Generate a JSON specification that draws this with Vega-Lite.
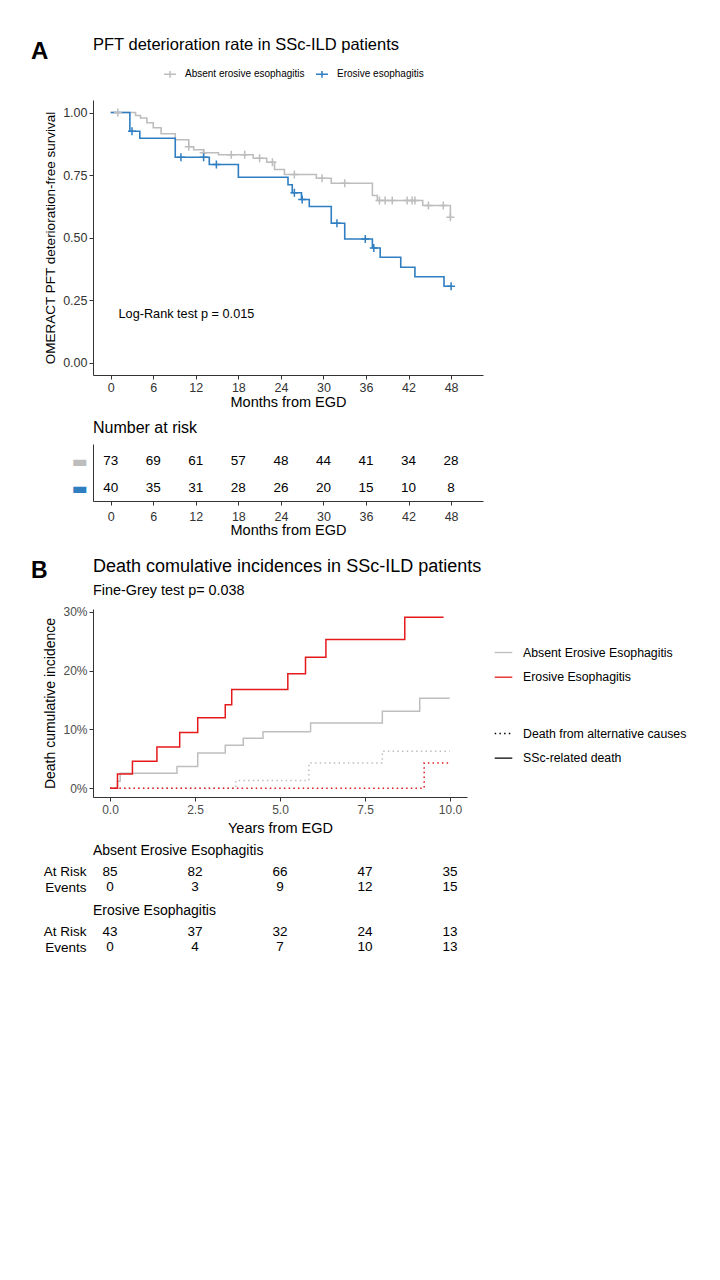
{
  "$schema": "https://vega.github.io/schema/vega-lite/v6.json",
  "background": "white",
  "padding": {"left": 30, "top": 36, "right": 10, "bottom": 10},
  "config": {
    "font": "Liberation Sans",
    "view": {"stroke": null},
    "axis": {"grid": false, "domainColor": "#333333", "tickColor": "#333333", "labelColor": "#333333", "titleColor": "#000000", "titleFontWeight": "normal", "tickSize": 4, "labelPadding": 2, "domainWidth": 1, "tickWidth": 1},
    "title": {"fontWeight": "normal", "color": "#000000", "anchor": "start"},
    "legend": {"labelColor": "#000000"}
  },
  "datasets": {
    "kmA": [
      {"group": "Absent erosive esophagitis", "month": 0, "surv": 1.0},
      {"group": "Absent erosive esophagitis", "month": 3.5, "surv": 0.988},
      {"group": "Absent erosive esophagitis", "month": 4.2, "surv": 0.978},
      {"group": "Absent erosive esophagitis", "month": 5.1, "surv": 0.959},
      {"group": "Absent erosive esophagitis", "month": 6.0, "surv": 0.939},
      {"group": "Absent erosive esophagitis", "month": 7.1, "surv": 0.915},
      {"group": "Absent erosive esophagitis", "month": 9.1, "surv": 0.891},
      {"group": "Absent erosive esophagitis", "month": 11.0, "surv": 0.863},
      {"group": "Absent erosive esophagitis", "month": 11.7, "surv": 0.851},
      {"group": "Absent erosive esophagitis", "month": 13.1, "surv": 0.839},
      {"group": "Absent erosive esophagitis", "month": 15.2, "surv": 0.831},
      {"group": "Absent erosive esophagitis", "month": 20.1, "surv": 0.817},
      {"group": "Absent erosive esophagitis", "month": 22.0, "surv": 0.801},
      {"group": "Absent erosive esophagitis", "month": 23.1, "surv": 0.772},
      {"group": "Absent erosive esophagitis", "month": 24.5, "surv": 0.752},
      {"group": "Absent erosive esophagitis", "month": 29.0, "surv": 0.737},
      {"group": "Absent erosive esophagitis", "month": 31.1, "surv": 0.717},
      {"group": "Absent erosive esophagitis", "month": 36.9, "surv": 0.668},
      {"group": "Absent erosive esophagitis", "month": 37.6, "surv": 0.648},
      {"group": "Absent erosive esophagitis", "month": 44.0, "surv": 0.628},
      {"group": "Absent erosive esophagitis", "month": 47.9, "surv": 0.581},
      {"group": "Absent erosive esophagitis", "month": 48.0, "surv": 0.581},
      {"group": "Erosive esophagitis", "month": 0, "surv": 1.0},
      {"group": "Erosive esophagitis", "month": 2.7, "surv": 0.925},
      {"group": "Erosive esophagitis", "month": 4.1, "surv": 0.897},
      {"group": "Erosive esophagitis", "month": 9.1, "surv": 0.821},
      {"group": "Erosive esophagitis", "month": 13.9, "surv": 0.792},
      {"group": "Erosive esophagitis", "month": 18.0, "surv": 0.741},
      {"group": "Erosive esophagitis", "month": 25.0, "surv": 0.711},
      {"group": "Erosive esophagitis", "month": 25.6, "surv": 0.679},
      {"group": "Erosive esophagitis", "month": 26.9, "surv": 0.652},
      {"group": "Erosive esophagitis", "month": 28.0, "surv": 0.624},
      {"group": "Erosive esophagitis", "month": 31.1, "surv": 0.557},
      {"group": "Erosive esophagitis", "month": 33.0, "surv": 0.494},
      {"group": "Erosive esophagitis", "month": 36.9, "surv": 0.458},
      {"group": "Erosive esophagitis", "month": 38.0, "surv": 0.421},
      {"group": "Erosive esophagitis", "month": 40.9, "surv": 0.381},
      {"group": "Erosive esophagitis", "month": 42.9, "surv": 0.343},
      {"group": "Erosive esophagitis", "month": 47.0, "surv": 0.305},
      {"group": "Erosive esophagitis", "month": 48.0, "surv": 0.305}
    ],
    "censorA": [
      {"group": "Absent erosive esophagitis", "month": 1.0, "surv": 1.0},
      {"group": "Absent erosive esophagitis", "month": 11.0, "surv": 0.863},
      {"group": "Absent erosive esophagitis", "month": 13.1, "surv": 0.839},
      {"group": "Absent erosive esophagitis", "month": 17.0, "surv": 0.831},
      {"group": "Absent erosive esophagitis", "month": 18.9, "surv": 0.831},
      {"group": "Absent erosive esophagitis", "month": 21.0, "surv": 0.817},
      {"group": "Absent erosive esophagitis", "month": 22.8, "surv": 0.801},
      {"group": "Absent erosive esophagitis", "month": 25.9, "surv": 0.752},
      {"group": "Absent erosive esophagitis", "month": 29.8, "surv": 0.737},
      {"group": "Absent erosive esophagitis", "month": 33.0, "surv": 0.717},
      {"group": "Absent erosive esophagitis", "month": 37.9, "surv": 0.648},
      {"group": "Absent erosive esophagitis", "month": 38.7, "surv": 0.648},
      {"group": "Absent erosive esophagitis", "month": 39.7, "surv": 0.648},
      {"group": "Absent erosive esophagitis", "month": 41.8, "surv": 0.648},
      {"group": "Absent erosive esophagitis", "month": 42.5, "surv": 0.648},
      {"group": "Absent erosive esophagitis", "month": 42.9, "surv": 0.648},
      {"group": "Absent erosive esophagitis", "month": 44.8, "surv": 0.628},
      {"group": "Absent erosive esophagitis", "month": 46.9, "surv": 0.628},
      {"group": "Absent erosive esophagitis", "month": 47.9, "surv": 0.581},
      {"group": "Erosive esophagitis", "month": 3.0, "surv": 0.925},
      {"group": "Erosive esophagitis", "month": 9.9, "surv": 0.821},
      {"group": "Erosive esophagitis", "month": 13.1, "surv": 0.821},
      {"group": "Erosive esophagitis", "month": 14.9, "surv": 0.792},
      {"group": "Erosive esophagitis", "month": 25.9, "surv": 0.679},
      {"group": "Erosive esophagitis", "month": 27.0, "surv": 0.652},
      {"group": "Erosive esophagitis", "month": 31.9, "surv": 0.557},
      {"group": "Erosive esophagitis", "month": 35.9, "surv": 0.494},
      {"group": "Erosive esophagitis", "month": 37.1, "surv": 0.458},
      {"group": "Erosive esophagitis", "month": 48.0, "surv": 0.305}
    ],
    "pvalA": [
      {"month": 1.1, "surv": 0.195, "label": "Log-Rank test p = 0.015"}
    ],
    "riskA": [
      {"group": "Absent erosive esophagitis", "month": 0, "n": 73},
      {"group": "Absent erosive esophagitis", "month": 6, "n": 69},
      {"group": "Absent erosive esophagitis", "month": 12, "n": 61},
      {"group": "Absent erosive esophagitis", "month": 18, "n": 57},
      {"group": "Absent erosive esophagitis", "month": 24, "n": 48},
      {"group": "Absent erosive esophagitis", "month": 30, "n": 44},
      {"group": "Absent erosive esophagitis", "month": 36, "n": 41},
      {"group": "Absent erosive esophagitis", "month": 42, "n": 34},
      {"group": "Absent erosive esophagitis", "month": 48, "n": 28},
      {"group": "Erosive esophagitis", "month": 0, "n": 40},
      {"group": "Erosive esophagitis", "month": 6, "n": 35},
      {"group": "Erosive esophagitis", "month": 12, "n": 31},
      {"group": "Erosive esophagitis", "month": 18, "n": 28},
      {"group": "Erosive esophagitis", "month": 24, "n": 26},
      {"group": "Erosive esophagitis", "month": 30, "n": 20},
      {"group": "Erosive esophagitis", "month": 36, "n": 15},
      {"group": "Erosive esophagitis", "month": 42, "n": 10},
      {"group": "Erosive esophagitis", "month": 48, "n": 8}
    ],
    "ciB": [
      {"group": "Absent Erosive Esophagitis", "cause": "SSc-related death", "year": 0, "inc": 0},
      {"group": "Absent Erosive Esophagitis", "cause": "SSc-related death", "year": 0.22, "inc": 0.012},
      {"group": "Absent Erosive Esophagitis", "cause": "SSc-related death", "year": 0.3, "inc": 0.0255},
      {"group": "Absent Erosive Esophagitis", "cause": "SSc-related death", "year": 1.97, "inc": 0.037},
      {"group": "Absent Erosive Esophagitis", "cause": "SSc-related death", "year": 2.58, "inc": 0.06},
      {"group": "Absent Erosive Esophagitis", "cause": "SSc-related death", "year": 3.39, "inc": 0.073},
      {"group": "Absent Erosive Esophagitis", "cause": "SSc-related death", "year": 3.92, "inc": 0.085},
      {"group": "Absent Erosive Esophagitis", "cause": "SSc-related death", "year": 4.5, "inc": 0.096},
      {"group": "Absent Erosive Esophagitis", "cause": "SSc-related death", "year": 5.9, "inc": 0.111},
      {"group": "Absent Erosive Esophagitis", "cause": "SSc-related death", "year": 8.01, "inc": 0.131},
      {"group": "Absent Erosive Esophagitis", "cause": "SSc-related death", "year": 9.11, "inc": 0.153},
      {"group": "Absent Erosive Esophagitis", "cause": "SSc-related death", "year": 9.99, "inc": 0.153},
      {"group": "Absent Erosive Esophagitis", "cause": "Death from alternative causes", "year": 0, "inc": 0},
      {"group": "Absent Erosive Esophagitis", "cause": "Death from alternative causes", "year": 3.7, "inc": 0.013},
      {"group": "Absent Erosive Esophagitis", "cause": "Death from alternative causes", "year": 5.85, "inc": 0.043},
      {"group": "Absent Erosive Esophagitis", "cause": "Death from alternative causes", "year": 8.01, "inc": 0.063},
      {"group": "Absent Erosive Esophagitis", "cause": "Death from alternative causes", "year": 9.99, "inc": 0.063},
      {"group": "Erosive Esophagitis", "cause": "SSc-related death", "year": 0, "inc": 0},
      {"group": "Erosive Esophagitis", "cause": "SSc-related death", "year": 0.22, "inc": 0.024},
      {"group": "Erosive Esophagitis", "cause": "SSc-related death", "year": 0.66, "inc": 0.046},
      {"group": "Erosive Esophagitis", "cause": "SSc-related death", "year": 1.38, "inc": 0.07},
      {"group": "Erosive Esophagitis", "cause": "SSc-related death", "year": 2.05, "inc": 0.095},
      {"group": "Erosive Esophagitis", "cause": "SSc-related death", "year": 2.58, "inc": 0.12},
      {"group": "Erosive Esophagitis", "cause": "SSc-related death", "year": 3.39, "inc": 0.142},
      {"group": "Erosive Esophagitis", "cause": "SSc-related death", "year": 3.58, "inc": 0.168},
      {"group": "Erosive Esophagitis", "cause": "SSc-related death", "year": 5.23, "inc": 0.195},
      {"group": "Erosive Esophagitis", "cause": "SSc-related death", "year": 5.75, "inc": 0.223},
      {"group": "Erosive Esophagitis", "cause": "SSc-related death", "year": 6.35, "inc": 0.253},
      {"group": "Erosive Esophagitis", "cause": "SSc-related death", "year": 8.67, "inc": 0.291},
      {"group": "Erosive Esophagitis", "cause": "SSc-related death", "year": 9.81, "inc": 0.291},
      {"group": "Erosive Esophagitis", "cause": "Death from alternative causes", "year": 0, "inc": 0},
      {"group": "Erosive Esophagitis", "cause": "Death from alternative causes", "year": 9.24, "inc": 0.043},
      {"group": "Erosive Esophagitis", "cause": "Death from alternative causes", "year": 9.99, "inc": 0.043}
    ],
    "riskB1": [
      {"row": "At Risk", "year": 0, "value": 85},
      {"row": "At Risk", "year": 2.5, "value": 82},
      {"row": "At Risk", "year": 5, "value": 66},
      {"row": "At Risk", "year": 7.5, "value": 47},
      {"row": "At Risk", "year": 10, "value": 35},
      {"row": "Events", "year": 0, "value": 0},
      {"row": "Events", "year": 2.5, "value": 3},
      {"row": "Events", "year": 5, "value": 9},
      {"row": "Events", "year": 7.5, "value": 12},
      {"row": "Events", "year": 10, "value": 15}
    ],
    "riskB2": [
      {"row": "At Risk", "year": 0, "value": 43},
      {"row": "At Risk", "year": 2.5, "value": 37},
      {"row": "At Risk", "year": 5, "value": 32},
      {"row": "At Risk", "year": 7.5, "value": 24},
      {"row": "At Risk", "year": 10, "value": 13},
      {"row": "Events", "year": 0, "value": 0},
      {"row": "Events", "year": 2.5, "value": 4},
      {"row": "Events", "year": 5, "value": 7},
      {"row": "Events", "year": 7.5, "value": 10},
      {"row": "Events", "year": 10, "value": 13}
    ]
  },
  "resolve": {"scale": {"color": "independent", "strokeDash": "independent"}, "legend": {"color": "independent", "strokeDash": "independent"}},
  "spacing": 20,
  "vconcat": [
    {
      "title": {"text": "A", "fontSize": 24, "fontWeight": "bold", "anchor": "start", "offset": -27, "dx": -12},
      "spacing": 11,
      "resolve": {"scale": {"color": "independent"}, "legend": {"color": "independent"}},
      "vconcat": [
        {
          "width": 390,
          "height": 275,
          "title": {"text": "PFT deterioration rate in SSc-ILD patients", "fontSize": 16.5, "frame": "group", "anchor": "start", "offset": 14},
          "layer": [
            {
              "data": {"name": "kmA"},
              "mark": {"type": "line", "interpolate": "step-after", "strokeWidth": 1.6},
              "encoding": {
                "x": {"field": "month", "type": "quantitative", "scale": {"domain": [-2.5, 52.5], "nice": false, "zero": false},
                      "axis": {"values": [0, 6, 12, 18, 24, 30, 36, 42, 48], "title": "Months from EGD", "labelFontSize": 12.5, "titleFontSize": 14.5, "titlePadding": 2}},
                "y": {"field": "surv", "type": "quantitative", "scale": {"domain": [-0.05, 1.05], "nice": false, "zero": false},
                      "axis": {"values": [0, 0.25, 0.5, 0.75, 1], "format": ".2f", "title": "OMERACT PFT deterioration-free survival", "labelFontSize": 12.5, "titleFontSize": 13.5, "titlePadding": 5, "minExtent": 31, "maxExtent": 31}},
                "color": {"field": "group", "type": "nominal",
                          "scale": {"domain": ["Absent erosive esophagitis", "Erosive esophagitis"], "range": ["#BDBDBD", "#2E7EC1"]},
                          "legend": {"title": null, "orient": "none", "legendX": 70, "legendY": -33, "direction": "horizontal", "symbolType": "M-1,0H1M0,-0.55V0.55", "symbolSize": 144, "symbolStrokeWidth": 1.5, "symbolFillColor": "transparent", "labelFontSize": 10, "labelOffset": 8, "columnPadding": 8, "padding": 0}}
              }
            },
            {
              "data": {"name": "censorA"},
              "mark": {"type": "point", "shape": "M-1,0H1M0,-1V1", "filled": false, "strokeWidth": 1.5, "size": 64, "opacity": 1},
              "encoding": {
                "x": {"field": "month", "type": "quantitative"},
                "y": {"field": "surv", "type": "quantitative"},
                "color": {"field": "group", "type": "nominal"}
              }
            },
            {
              "data": {"name": "pvalA"},
              "mark": {"type": "text", "align": "left", "baseline": "middle", "fontSize": 12.7, "color": "#000000"},
              "encoding": {
                "x": {"field": "month", "type": "quantitative"},
                "y": {"field": "surv", "type": "quantitative"},
                "text": {"field": "label", "type": "nominal"}
              }
            }
          ]
        },
        {
          "width": 390,
          "height": 57,
          "title": {"text": "Number at risk", "fontSize": 16, "frame": "group", "anchor": "start", "offset": 8},
          "data": {"name": "riskA"},
          "mark": {"type": "text", "fontSize": 13.5, "color": "#000000"},
          "encoding": {
            "x": {"field": "month", "type": "quantitative", "scale": {"domain": [-2.5, 52.5], "nice": false, "zero": false},
                  "axis": {"values": [0, 6, 12, 18, 24, 30, 36, 42, 48], "title": "Months from EGD", "labelFontSize": 12.5, "titleFontSize": 14.5, "labelPadding": 5, "titlePadding": 1}},
            "y": {"field": "group", "type": "nominal",
                  "scale": {"type": "point", "domain": ["Absent erosive esophagitis", "Erosive esophagitis"], "padding": 0.556, "align": 0.567},
                  "axis": {"title": null, "ticks": false, "labelExpr": "'▬'", "labelFont": "DejaVu Sans", "labelFontSize": 17, "labelPadding": 6,
                           "labelColor": {"condition": {"test": "datum.value === 'Erosive esophagitis'", "value": "#2E7EC1"}, "value": "#BDBDBD"}}},
            "text": {"field": "n", "type": "quantitative"}
          }
        }
      ]
    },
    {
      "title": {"text": "B", "fontSize": 23, "fontWeight": "bold", "anchor": "start", "offset": -25, "dx": -12},
      "spacing": 9,
      "resolve": {"scale": {"color": "independent", "strokeDash": "independent"}, "legend": {"color": "independent", "strokeDash": "independent"}},
      "vconcat": [
        {
          "width": 374,
          "height": 188,
          "title": {"text": "Death comulative incidences in SSc-ILD patients", "subtitle": "Fine-Grey test p= 0.038", "fontSize": 18, "subtitleFontSize": 14.4, "subtitleColor": "#000000", "subtitlePadding": 8, "frame": "group", "anchor": "start", "offset": 9},
          "data": {"name": "ciB"},
          "mark": {"type": "line", "interpolate": "step-after", "strokeWidth": 1.5},
          "encoding": {
            "x": {"field": "year", "type": "quantitative", "scale": {"domain": [-0.5, 10.5], "nice": false, "zero": false},
                  "axis": {"values": [0, 2.5, 5, 7.5, 10], "format": ".1f", "title": "Years from EGD", "labelFontSize": 12, "titleFontSize": 14.5, "labelColor": "#4D4D4D", "labelPadding": 3, "titlePadding": 6}},
            "y": {"field": "inc", "type": "quantitative", "scale": {"domain": [-0.015, 0.305], "nice": false, "zero": false},
                  "axis": {"values": [0, 0.1, 0.2, 0.3], "format": ".0%", "title": "Death cumulative incidence", "labelFontSize": 12, "titleFontSize": 14, "labelColor": "#4D4D4D", "titlePadding": 5, "minExtent": 31, "maxExtent": 31}},
            "color": {"field": "group", "type": "nominal",
                      "scale": {"domain": ["Absent Erosive Esophagitis", "Erosive Esophagitis"], "range": ["#BEBEBE", "#E41A1C"]},
                      "legend": {"title": null, "orient": "none", "legendX": 401, "legendY": 34, "symbolType": "stroke", "symbolSize": 310, "symbolStrokeWidth": 1.3, "labelFontSize": 12.3, "labelOffset": 10, "labelLimit": 400, "rowPadding": 8.7, "padding": 0}},
            "strokeDash": {"field": "cause", "type": "nominal",
                           "scale": {"domain": ["Death from alternative causes", "SSc-related death"], "range": [[1.5, 3.2], [1, 0]]},
                           "legend": {"title": null, "orient": "none", "legendX": 401, "legendY": 115, "symbolType": "stroke", "symbolSize": 310, "symbolStrokeColor": "#000000", "symbolStrokeWidth": 1.3, "labelFontSize": 12.3, "labelOffset": 10, "labelLimit": 400, "rowPadding": 8.7, "padding": 0}}
          }
        },
        {
          "width": 374,
          "height": 31,
          "title": {"text": "Absent Erosive Esophagitis", "fontSize": 14, "frame": "group", "anchor": "start", "offset": 6},
          "data": {"name": "riskB1"},
          "mark": {"type": "text", "fontSize": 13.5, "color": "#000000"},
          "encoding": {
            "x": {"field": "year", "type": "quantitative", "scale": {"domain": [-0.5, 10.5], "nice": false, "zero": false}, "axis": null},
            "y": {"field": "row", "type": "nominal", "scale": {"type": "point", "domain": ["At Risk", "Events"], "padding": 0.5},
                  "axis": {"title": null, "domain": false, "ticks": false, "labelFontSize": 13.5, "labelColor": "#000000", "labelPadding": 7}},
            "text": {"field": "value", "type": "quantitative"}
          }
        },
        {
          "width": 374,
          "height": 31,
          "title": {"text": "Erosive Esophagitis", "fontSize": 14, "frame": "group", "anchor": "start", "offset": 6},
          "data": {"name": "riskB2"},
          "mark": {"type": "text", "fontSize": 13.5, "color": "#000000"},
          "encoding": {
            "x": {"field": "year", "type": "quantitative", "scale": {"domain": [-0.5, 10.5], "nice": false, "zero": false}, "axis": null},
            "y": {"field": "row", "type": "nominal", "scale": {"type": "point", "domain": ["At Risk", "Events"], "padding": 0.5},
                  "axis": {"title": null, "domain": false, "ticks": false, "labelFontSize": 13.5, "labelColor": "#000000", "labelPadding": 7}},
            "text": {"field": "value", "type": "quantitative"}
          }
        }
      ]
    }
  ]
}
